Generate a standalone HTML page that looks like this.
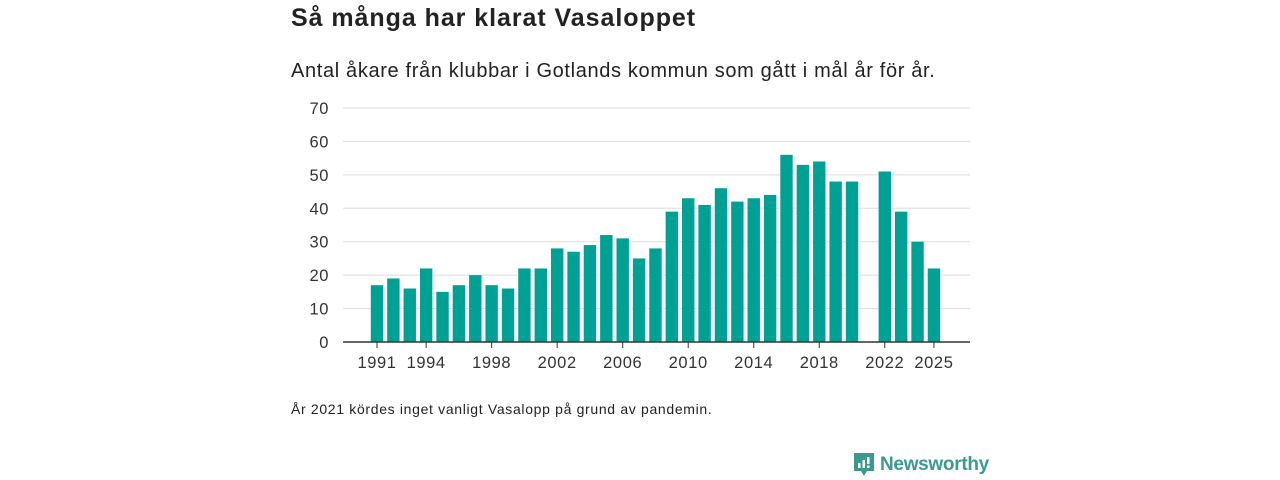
<!DOCTYPE html>
<html><head><meta charset="utf-8">
<style>
body{margin:0;width:1280px;height:480px;background:#fff;font-family:"Liberation Sans","DejaVu Sans",sans-serif;color:#222;overflow:hidden;position:relative}
#title{position:absolute;left:291px;top:4px;font-size:25px;font-weight:bold;margin:0;letter-spacing:0.95px}
#sub{position:absolute;left:291px;top:60px;font-size:20px;margin:0;letter-spacing:0.65px}
#note{position:absolute;left:291px;top:401px;font-size:14px;letter-spacing:0.67px}
#logo{position:absolute;left:853px;top:452px;display:flex;align-items:center;color:#3a9a90;font-size:19px;font-weight:bold}
</style></head><body>
<h1 id="title">Så många har klarat Vasaloppet</h1>
<p id="sub">Antal åkare från klubbar i Gotlands kommun som gått i mål år för år.</p>
<svg id="chart" width="1280" height="480" style="position:absolute;left:0;top:0"></svg>
<div id="note">År 2021 kördes inget vanligt Vasalopp på grund av pandemin.</div>
<div id="logo">
<svg width="22" height="26" viewBox="0 0 22 26"><path d="M1 1h20v18h-7l-3 5-3-5H1z" fill="#3a9a90"/><rect x="5" y="11" width="2.5" height="5" fill="#fff"/><rect x="9.5" y="8" width="2.5" height="8" fill="#fff"/><rect x="14" y="5" width="2.5" height="7" fill="#fff"/><rect x="14" y="13.5" width="2.5" height="2.5" fill="#fff"/></svg>
<span style="margin-left:5px;letter-spacing:-0.3px">Newsworthy</span></div>
<script>
const years=[1991,1992,1993,1994,1995,1996,1997,1998,1999,2000,2001,2002,2003,2004,2005,2006,2007,2008,2009,2010,2011,2012,2013,2014,2015,2016,2017,2018,2019,2020,2021,2022,2023,2024,2025];
const values=[17,19,16,22,15,17,20,17,16,22,22,28,27,29,32,31,25,28,39,43,41,46,42,43,44,56,53,54,48,48,null,51,39,30,22];
const yTicks=[0,10,20,30,40,50,60,70];
const xTicks=[1991,1994,1998,2002,2006,2010,2014,2018,2022,2025];
const NS='http://www.w3.org/2000/svg',svg=document.getElementById('chart');
const x=yr=>377+(yr-1991)*16.38, y=v=>342-v*(234/70);
function el(t,a){const e=document.createElementNS(NS,t);for(const k in a)e.setAttribute(k,a[k]);svg.appendChild(e);return e;}
yTicks.forEach(v=>{
 if(v>0){const g=el('line',{x1:343,x2:970,y1:y(v),y2:y(v),stroke:'#ddd','stroke-width':1});
 
 }
 const t=el('text',{x:329,y:y(v)+6,'text-anchor':'end','font-size':16.5,'letter-spacing':0.6,fill:'#333'});t.textContent=v;
 
 
});
years.forEach((yr,i)=>{const v=values[i];if(v==null)return;
 const r=el('rect',{x:x(yr)-6.2,y:y(v),width:12.4,height:342-y(v),fill:'#00a195'});
 
 
});
const ax=el('line',{x1:343,x2:970,y1:342,y2:342,stroke:'#333','stroke-width':1.5});


xTicks.forEach(yr=>{
 const tk=el('line',{x1:x(yr),x2:x(yr),y1:342,y2:348,stroke:'#333','stroke-width':1});
 
 
 const t=el('text',{x:x(yr),y:368,'text-anchor':'middle','font-size':16.5,'letter-spacing':0.6,fill:'#333'});t.textContent=yr;
 
 
});
</script>
</body></html>
